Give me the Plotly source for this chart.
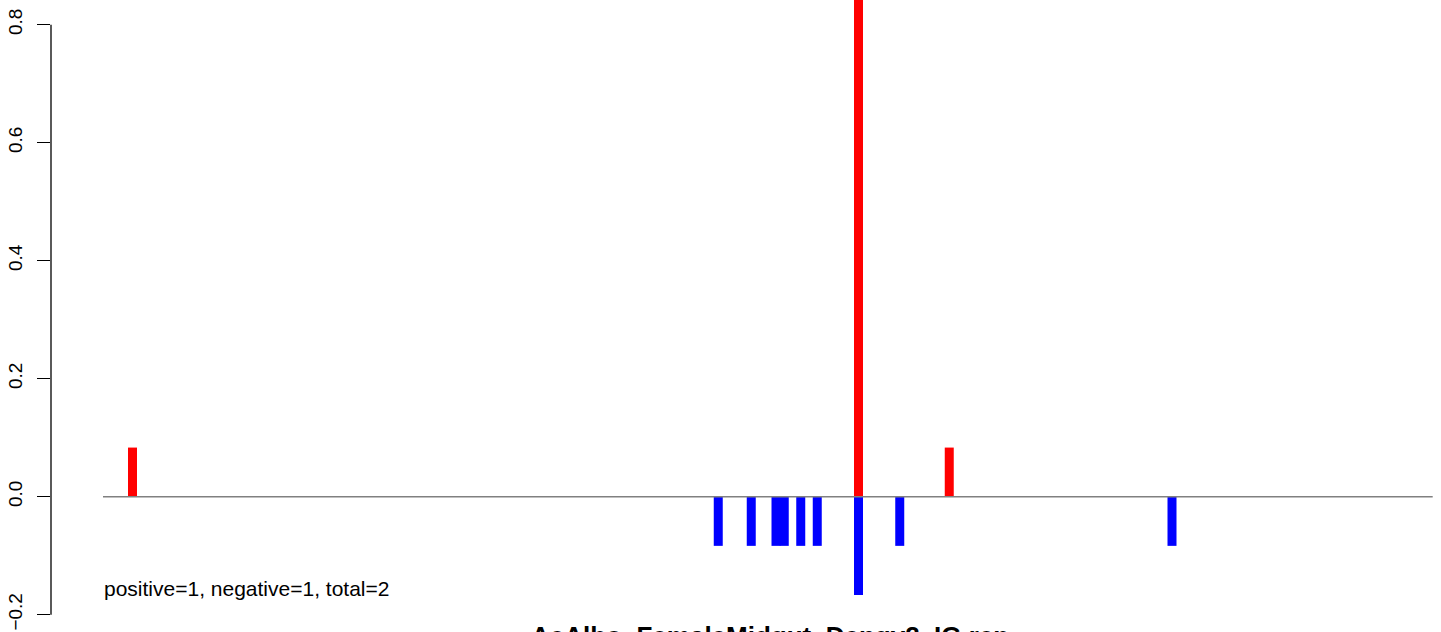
import plotly.graph_objects as go

# Data (bin index positions and signed scores)
pos_positions = [1, 89, 100]
pos_values = [0.0833, 1.0, 0.0833]
neg_positions = [72, 76, 79, 80, 82, 84, 89, 94, 127]
neg_values = [-0.0833, -0.0833, -0.0833, -0.0833, -0.0833, -0.0833, -0.1667, -0.0833, -0.0833]
y_ticks = [-0.2, 0.0, 0.2, 0.4, 0.6, 0.8]
y_tick_labels = ["\u22120.2", "0.0", "0.2", "0.4", "0.6", "0.8"]
summary_text = "positive=1, negative=1, total=2"
title_text = "AeAlbo_FemaleMidgut_Dengv2_IG.rep"
line_start, line_end = -2.576, 158.6

W, H = 1441, 632
L = 51
x_range = [-8.879, 159.606]
y_range = [-0.2293, 0.8419]

fig = go.Figure()
fig.add_trace(go.Bar(x=pos_positions, y=pos_values, marker_color="#FF0000",
                     marker_line_width=0, width=1.09, showlegend=False))
fig.add_trace(go.Bar(x=neg_positions, y=neg_values, marker_color="#0000FF",
                     marker_line_width=0, width=1.09, showlegend=False))

font = "Liberation Sans, Arial, Helvetica, sans-serif"

fig.update_layout(
    width=W, height=H,
    margin=dict(l=L, r=0, t=0, b=0, pad=0, autoexpand=False),
    paper_bgcolor="white", plot_bgcolor="white",
    barmode="overlay",
    font=dict(family=font, color="black"),
    xaxis=dict(range=x_range, visible=False, showgrid=False, zeroline=False, automargin=False),
    yaxis=dict(range=y_range, showgrid=False, zeroline=False, showline=False, automargin=False,
               tickmode="array", tickvals=y_ticks, ticktext=y_tick_labels,
               ticks="outside", ticklen=13.5, tickwidth=1.3, tickcolor="black",
               ticklabelstandoff=7,
               tickangle=-90, tickfont=dict(size=19, family=font, color="black")),
)

# y axis line spanning tick range (R style)
fig.add_shape(type="line", xref="paper", yref="y", x0=0, x1=0,
              y0=y_ticks[0], y1=y_ticks[-1], line=dict(color="black", width=1.3))
# zero line
fig.add_shape(type="line", xref="x", yref="y", x0=line_start, x1=line_end,
              y0=0, y1=0, line=dict(color="#808080", width=1.5), layer="above")

fig.add_annotation(x=line_start, y=-0.1564, xref="x", yref="y", text=summary_text,
                   showarrow=False, xanchor="left", yanchor="middle", borderpad=0,
                   font=dict(size=21, family=font, color="black"))
fig.add_annotation(x=(769.5 - L) / (W - L), y=(H - 619.5) / H, xref="paper", yref="paper",
                   text="<b>" + title_text + "</b>",
                   showarrow=False, xanchor="center", yanchor="top", borderpad=0,
                   font=dict(size=26, family=font, color="black"))

fig.write_html("out.html",
               config={"displayModeBar": False, "staticPlot": True},
               post_script="document.body.style.margin='0';document.body.style.overflow='hidden';")
